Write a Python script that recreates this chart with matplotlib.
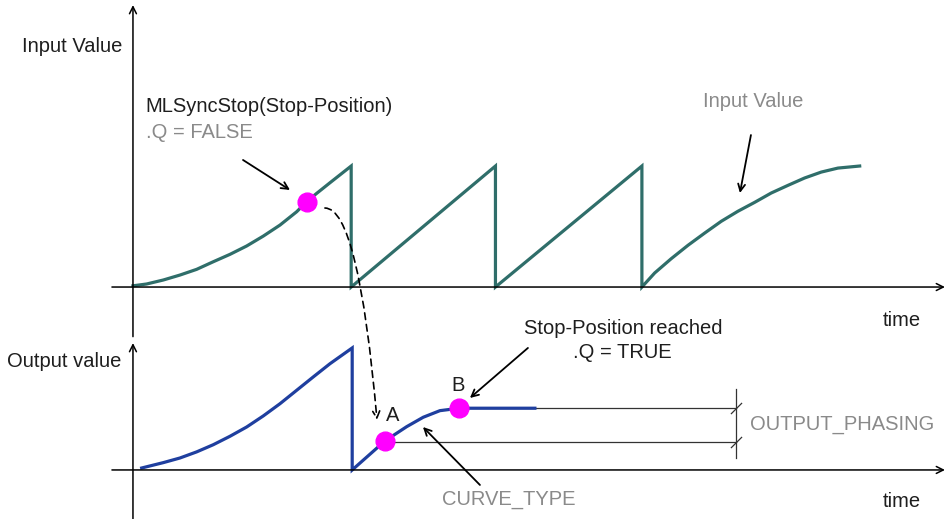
import matplotlib.pyplot as plt
from matplotlib.patches import ConnectionPatch

plt.rcParams['font.family'] = ['Liberation Sans', 'DejaVu Sans']

# upper plot: input value over time (time unit = one sawtooth period)
in_t = [0.0, 0.094, 0.209, 0.324, 0.439, 0.554, 0.669, 0.784, 0.899, 1.014,
        1.129, 1.198, 1.267, 1.359, 1.505, 1.505,
        2.50, 2.50, 3.51, 3.51,
        3.598, 3.712, 3.828, 3.943, 4.057, 4.172, 4.288, 4.402, 4.517,
        4.632, 4.747, 4.862, 5.012]
in_v = [0.01, 0.025, 0.058, 0.099, 0.146, 0.209, 0.270, 0.339, 0.421, 0.512,
        0.622, 0.705, 0.774, 0.862, 1.0, 0.0,
        1.0, 0.0, 1.0, 0.0,
        0.116, 0.234, 0.345, 0.446, 0.543, 0.626, 0.700, 0.777, 0.840,
        0.901, 0.950, 0.983, 1.0]
stop_cmd = (1.198, 0.705)   # MLSyncStop called here

# lower plot: output value over time
out_t = [0.06, 0.209, 0.324, 0.439, 0.554, 0.669, 0.784, 0.899, 1.014,
         1.129, 1.243, 1.359, 1.512, 1.512,
         1.738, 1.888, 2.002, 2.117, 2.25, 2.772]
out_v = [0.016, 0.060, 0.098, 0.148, 0.207, 0.276, 0.352, 0.443, 0.543,
         0.653, 0.762, 0.871, 1.0, 0.0,
         0.238, 0.355, 0.432, 0.486, 0.506, 0.506]
pt_A = (1.738, 0.238)
pt_B = (2.25, 0.506)
dim_t = 4.16   # where OUTPUT_PHASING is measured

teal = '#2f6e6a'
blue = '#1f3f9f'
mag = '#ff00ff'
dark = '#1e1e1e'
grey = '#8a8a8a'
fs = 14.5

fig = plt.figure(figsize=(9.49, 5.19), dpi=100)
# both axes span the whole figure, only the y ranges differ
ax1 = fig.add_axes([0, 0, 1, 1])
ax2 = fig.add_axes([0, 0, 1, 1])
for ax in (ax1, ax2):
    ax.set_xlim(-0.917, 5.628)
    ax.axis('off')
    ax.patch.set_visible(False)
ax1.set_ylim(-1.917, 2.372)
ax2.set_ylim(-0.402, 3.852)

def arrow(ax, tip, start, lw=1.1, **kw):
    ax.annotate('', xy=tip, xytext=start,
                arrowprops=dict(arrowstyle='->,head_length=0.5,head_width=0.25',
                                color='black', lw=lw, shrinkA=0, shrinkB=0, **kw))

# axes lines
arrow(ax1, (0, 2.33), (0, -0.41))
arrow(ax1, (5.6, 0), (-0.145, 0))
arrow(ax2, (0, 1.04), (0, -0.40))
arrow(ax2, (5.6, 0), (-0.145, 0))

# curves
ax1.plot(in_t, in_v, color=teal, lw=2.3, solid_joinstyle='miter')
ax1.plot(*stop_cmd, 'o', color=mag, ms=13.5)

# phasing dimension lines
line_A = pt_A[1] - 0.01
ax2.plot([pt_B[0], dim_t], [pt_B[1], pt_B[1]], color='#333333', lw=0.9)
ax2.plot([pt_A[0], dim_t], [line_A, line_A], color='#333333', lw=0.9)
ax2.plot([dim_t, dim_t], [0.10, 0.66], color='#333333', lw=0.9)
ax2.plot([dim_t, dim_t], [pt_B[1], line_A], ls='none',
         marker=[(-1, -1), (1, 1)], ms=8, mec='#333333', mew=0.9)

ax2.plot(out_t, out_v, color=blue, lw=2.3, solid_joinstyle='miter')
ax2.plot(*pt_A, 'o', color=mag, ms=13.5)
ax2.plot(*pt_B, 'o', color=mag, ms=13.5)

# labels
ax1.text(-0.766, 1.99, 'Input Value', fontsize=fs, color=dark, va='center')
ax2.text(-0.869, 0.885, 'Output value', fontsize=fs, color=dark, va='center')
ax1.text(5.17, -0.273, 'time', fontsize=fs, color=dark, va='center')
ax2.text(5.17, -0.262, 'time', fontsize=fs, color=dark, va='center')

ax1.text(0.083, 1.488, 'MLSyncStop(Stop-Position)', fontsize=fs, color=dark, va='center')
ax1.text(0.09, 1.281, '.Q = FALSE', fontsize=fs, color=grey, va='center')
arrow(ax1, (1.083, 0.802), (0.759, 1.05), lw=1.3)

ax1.text(3.93, 1.537, 'Input Value', fontsize=fs, color=grey, va='center')
arrow(ax1, (4.186, 0.777), (4.262, 1.256), lw=1.3)

ax2.text(3.379, 1.156, 'Stop-Position reached', fontsize=fs, color=dark,
         va='center', ha='center')
ax2.text(3.372, 0.959, '.Q = TRUE', fontsize=fs, color=dark, va='center', ha='center')
arrow(ax2, (2.324, 0.59), (2.724, 1.0), lw=1.3)

ax2.text(1.793, 0.443, 'A', fontsize=fs, color=dark, va='center', ha='center')
ax2.text(2.241, 0.689, 'B', fontsize=fs, color=dark, va='center', ha='center')

ax2.text(4.255, 0.369, 'OUTPUT_PHASING', fontsize=fs, color=grey, va='center')
ax2.text(2.131, -0.246, 'CURVE_TYPE', fontsize=fs, color=grey, va='center')
arrow(ax2, (2.0, 0.352), (2.393, -0.123), lw=1.3)

# dashed link from the stop command to point A
con = ConnectionPatch(xyA=(1.324, 0.653), coordsA=ax1.transData,
                      xyB=(1.683, 0.41), coordsB=ax2.transData,
                      arrowstyle='->,head_length=0.5,head_width=0.25',
                      connectionstyle='angle3,angleA=0,angleB=-85',
                      ls=(0, (4, 3)), lw=1.2, color='black',
                      shrinkA=0, shrinkB=0)
fig.add_artist(con)

fig.savefig('out.png', dpi=100, facecolor='white')
